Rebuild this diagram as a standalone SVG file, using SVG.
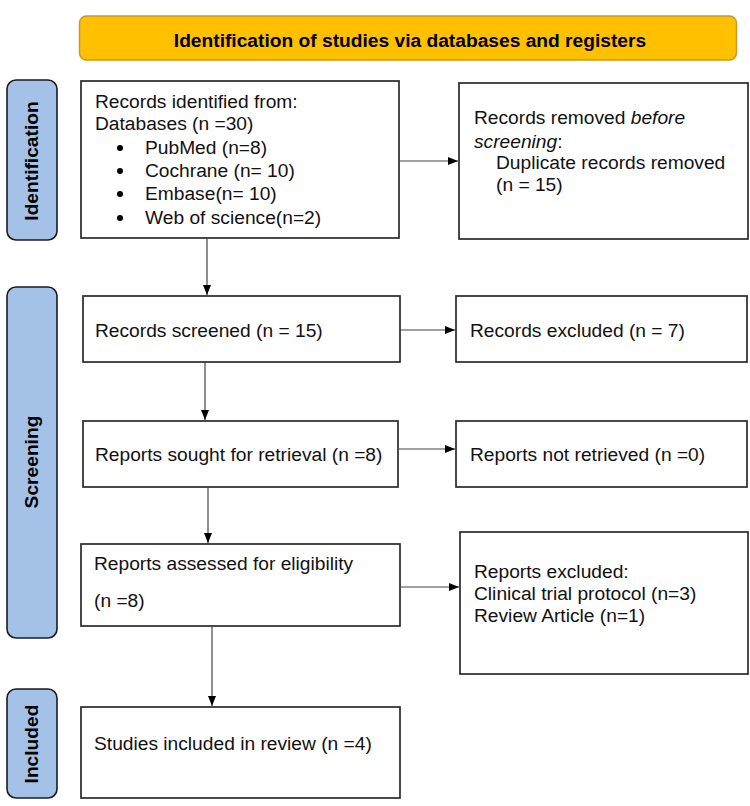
<svg xmlns="http://www.w3.org/2000/svg" width="750" height="806" viewBox="0 0 750 806">
<defs>
<marker id="ah" markerWidth="10" markerHeight="8" refX="10" refY="4" orient="auto" markerUnits="userSpaceOnUse">
<path d="M0,0 L10,4 L0,8 Z" fill="#000"/>
</marker>
<style>
.box{fill:#fff;stroke:#2a2a2a;stroke-width:1.7}
.lab{fill:#a4c2e8;stroke:#1a1a22;stroke-width:1.6}
.t{font-family:"Liberation Sans",Arial,sans-serif;font-size:19.2px;fill:#111}
.b{font-family:"Liberation Sans",Arial,sans-serif;font-size:19.2px;font-weight:bold;fill:#000}
.c{stroke:#444;stroke-width:1.2;fill:none;marker-end:url(#ah)}
</style>
</defs>
<rect width="750" height="806" fill="#fff"/>
<g id="banner">
<rect x="79.5" y="16" width="657" height="44" rx="7" fill="#ffc000" stroke="#c59a2a" stroke-width="1.5"/>
<text class="b" x="410" y="47" text-anchor="middle" font-size="19.5px">Identification of studies via databases and registers</text>
</g>
<g id="lab-identification">
<rect class="lab" x="7" y="80" width="50" height="160" rx="9"/>
<text class="b" transform="translate(38,161) rotate(-90)" text-anchor="middle">Identification</text>
</g>
<g id="lab-screening">
<rect class="lab" x="7" y="287" width="50" height="351" rx="9"/>
<text class="b" transform="translate(38,462) rotate(-90)" text-anchor="middle">Screening</text>
</g>
<g id="lab-included">
<rect class="lab" x="7" y="689" width="50" height="109" rx="9"/>
<text class="b" transform="translate(38,744) rotate(-90)" text-anchor="middle">Included</text>
</g>
<g id="records-identified">
<rect class="box" x="81" y="81" width="318" height="157"/>
<text class="t" x="95" y="108">Records identified from:</text>
<text class="t" x="95" y="130">Databases (n =30)</text>
<circle cx="120" cy="148" r="3"/>
<text class="t" x="145" y="154">PubMed (n=8)</text>
<circle cx="120" cy="171" r="3"/>
<text class="t" x="145" y="177">Cochrane (n= 10)</text>
<circle cx="120" cy="194" r="3"/>
<text class="t" x="145" y="200">Embase(n= 10)</text>
<circle cx="120" cy="218" r="3"/>
<text class="t" x="145" y="224">Web of science(n=2)</text>
</g>
<g id="records-removed">
<rect class="box" x="459" y="83" width="289" height="156"/>
<text class="t" x="474" y="124">Records removed <tspan font-style="italic">before</tspan></text>
<text class="t" x="474" y="148"><tspan font-style="italic">screening</tspan>:</text>
<text class="t" x="496" y="169">Duplicate records removed</text>
<text class="t" x="496" y="191">(n = 15)</text>
</g>
<g id="records-screened">
<rect class="box" x="83" y="296" width="317" height="66"/>
<text class="t" x="95" y="337">Records screened (n = 15)</text>
</g>
<g id="records-excluded">
<rect class="box" x="456" y="296" width="291" height="66"/>
<text class="t" x="470" y="337">Records excluded (n = 7)</text>
</g>
<g id="reports-sought">
<rect class="box" x="83" y="421" width="315" height="66"/>
<text class="t" x="95" y="461">Reports sought for retrieval (n =8)</text>
</g>
<g id="reports-not-retrieved">
<rect class="box" x="456" y="421" width="291" height="66"/>
<text class="t" x="470" y="461">Reports not retrieved (n =0)</text>
</g>
<g id="reports-assessed">
<rect class="box" x="81" y="544" width="319" height="82"/>
<text class="t" x="94" y="570">Reports assessed for eligibility</text>
<text class="t" x="94" y="607">(n =8)</text>
</g>
<g id="reports-excluded">
<rect class="box" x="460" y="532" width="288" height="142"/>
<text class="t" x="474" y="578">Reports excluded:</text>
<text class="t" x="474" y="600">Clinical trial protocol (n=3)</text>
<text class="t" x="474" y="622">Review Article (n=1)</text>
</g>
<g id="studies-included">
<rect class="box" x="81" y="707" width="319" height="91"/>
<text class="t" x="94" y="750">Studies included in review (n =4)</text>
</g>
<g id="connectors">
<line class="c" x1="399" y1="161" x2="458" y2="161"/>
<line class="c" x1="207" y1="238" x2="207" y2="295"/>
<line class="c" x1="400" y1="330" x2="455" y2="330"/>
<line class="c" x1="205" y1="362" x2="205" y2="420"/>
<line class="c" x1="398" y1="449" x2="455" y2="449"/>
<line class="c" x1="208" y1="487" x2="208" y2="543"/>
<line class="c" x1="400" y1="587" x2="459" y2="587"/>
<line class="c" x1="212" y1="626" x2="212" y2="706"/>
</g>
</svg>
